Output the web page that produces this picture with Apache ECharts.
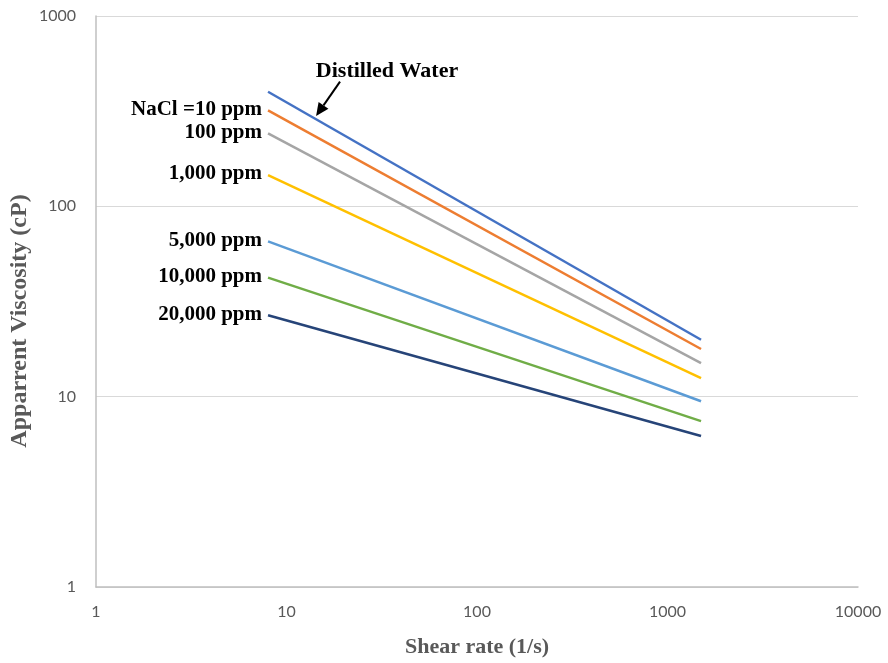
<!DOCTYPE html>
<html>
<head>
<meta charset="utf-8">
<script src="https://cdn.jsdelivr.net/npm/echarts@6/dist/echarts.min.js"></script>
<style>html,body{margin:0;padding:0;background:#fff}#c{width:888px;height:663px}</style>
</head>
<body>
<div id="c"></div>
<script>
// Shear rate endpoints (1/s)
const shearRate = [8, 1500];
// Series names / labels
const seriesNames = ['Distilled Water', 'NaCl =10 ppm', '100 ppm', '1,000 ppm', '5,000 ppm', '10,000 ppm', '20,000 ppm'];
// Apparent viscosity (cP) at the two shear rates
const distilledWater = [400, 19.9];
const nacl10 = [319, 17.8];
const nacl100 = [242, 15.0];
const nacl1000 = [146, 12.5];
const nacl5000 = [65.4, 9.46];
const nacl10000 = [42.2, 7.44];
const nacl20000 = [26.8, 6.21];
const xTicks = [1, 10, 100, 1000, 10000];
const yTicks = [1, 10, 100, 1000];

const colors = ['#4472C4', '#ED7D31', '#A5A5A5', '#FFC000', '#5B9BD5', '#70AD47', '#264478'];
const allData = [distilledWater, nacl10, nacl100, nacl1000, nacl5000, nacl10000, nacl20000];

const labelFont = {fontFamily: 'Liberation Serif', fontWeight: 'bold', fontSize: 21, color: '#000'};

const series = allData.map((vals, i) => ({
  name: seriesNames[i],
  type: 'line',
  symbol: 'none',
  lineStyle: {width: 2.5, color: colors[i]},
  itemStyle: {color: colors[i]},
  data: vals.map((v, j) => {
    const pt = {value: [shearRate[j], v]};
    if (j === 0 && i > 0) {
      pt.label = Object.assign({show: true, position: 'left', distance: 6, offset: [0, -1], formatter: seriesNames[i]}, labelFont);
      pt.symbol = 'circle'; pt.symbolSize = 0.1;
    }
    return pt;
  }),
  label: {show: false},
  animation: false
}));

const chart = echarts.init(document.getElementById('c'));
chart.setOption({
  animation: false,
  grid: {left: 96, right: 30, top: 16, bottom: 73},
  xAxis: {
    type: 'log', min: xTicks[0], max: xTicks[xTicks.length - 1], logBase: 10,
    name: 'Shear rate (1/s)', nameLocation: 'middle', nameGap: 49,
    nameTextStyle: {fontFamily: 'Liberation Serif', fontWeight: 'bold', fontSize: 22, color: '#595959'},
    axisLine: {show: true, lineStyle: {color: '#BFBFBF', width: 1.5}},
    axisTick: {show: false},
    axisLabel: {fontFamily: 'Lato', fontSize: 16, color: '#595959', margin: 17, formatter: v => String(v)},
    splitLine: {show: false}
  },
  yAxis: {
    type: 'log', min: yTicks[0], max: yTicks[yTicks.length - 1], logBase: 10,
    axisLine: {show: true, lineStyle: {color: '#BFBFBF', width: 1.5}},
    axisTick: {show: false},
    axisLabel: {fontFamily: 'Lato', fontSize: 16, color: '#595959', margin: 20, formatter: v => String(v)},
    splitLine: {show: true, lineStyle: {color: '#D9D9D9', width: 1.2}}
  },
  series: series
});

// Annotation for Distilled Water: text + arrow; y-axis title
const tPos = chart.convertToPixel({gridIndex: 0}, [33.3, 510]);
const aFrom = chart.convertToPixel({gridIndex: 0}, [19.1, 452]);
const aTo = chart.convertToPixel({gridIndex: 0}, [14.3, 298]);
const ang = Math.atan2(aTo[1] - aFrom[1], aTo[0] - aFrom[0]);
const hl = 13, hw = 6;
const bx = aTo[0] - hl * Math.cos(ang), by = aTo[1] - hl * Math.sin(ang);
const px = -Math.sin(ang), py = Math.cos(ang);
chart.setOption({
  graphic: [
    {type: 'text', x: tPos[0] + 1, y: tPos[1],
     style: {text: seriesNames[0], font: 'bold 22px "Liberation Serif"', fill: '#000', textAlign: 'center', textVerticalAlign: 'middle'}},
    {type: 'line', shape: {x1: aFrom[0], y1: aFrom[1], x2: bx, y2: by}, style: {stroke: '#000', lineWidth: 2}},
    {type: 'polygon', shape: {points: [[aTo[0], aTo[1]], [bx + px * hw, by + py * hw], [bx - px * hw, by - py * hw]]}, style: {fill: '#000'}},
    {type: 'text', x: 20, y: 321, rotation: Math.PI / 2,
     style: {text: 'Apparrent Viscosity (cP)', font: 'bold 24px "Liberation Serif"', fill: '#595959', textAlign: 'center', textVerticalAlign: 'middle'}}
  ]
});
</script>
</body>
</html>
